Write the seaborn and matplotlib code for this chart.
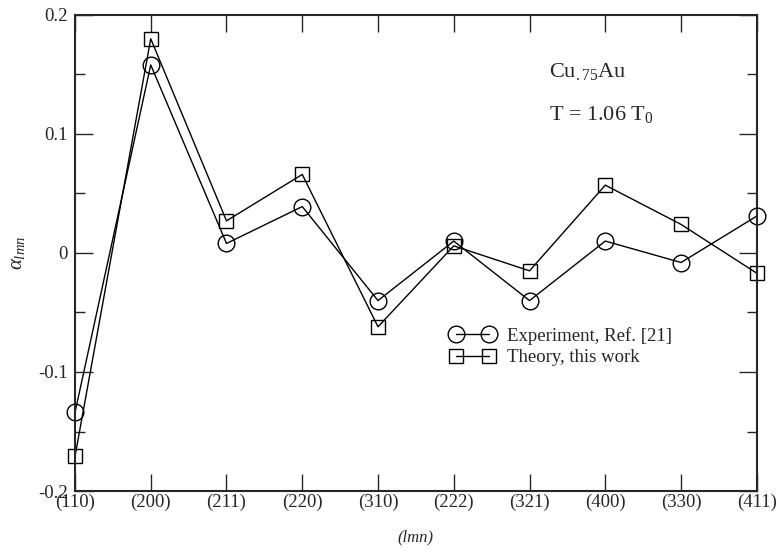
import pandas as pd
import seaborn as sns
import matplotlib.pyplot as plt

# Data
planes = ['(110)', '(200)', '(211)', '(220)', '(310)', '(222)', '(321)', '(400)', '(330)', '(411)']
experiment = [-0.134, 0.158, 0.008, 0.039, -0.040, 0.010, -0.040, 0.010, -0.008, 0.031]
theory = [-0.171, 0.180, 0.027, 0.066, -0.062, 0.006, -0.015, 0.057, 0.024, -0.017]

sns.set_style('ticks')
plt.rcParams['font.family'] = ['Liberation Serif', 'DejaVu Serif']
plt.rcParams['mathtext.fontset'] = 'custom'
plt.rcParams['mathtext.rm'] = 'Liberation Serif'
plt.rcParams['mathtext.it'] = 'Liberation Serif:italic'
plt.rcParams['axes.unicode_minus'] = False

df = pd.DataFrame({'pos': range(len(planes)), 'exp': experiment, 'theo': theory})

fig = plt.figure(figsize=(7.77, 5.54), dpi=100)
ax = fig.add_axes([0.0965, 0.1137, 0.8775, 0.8593])

sns.lineplot(data=df, x='pos', y='exp', ax=ax, color='black', lw=1,
             marker='o', markersize=12, markerfacecolor='none',
             markeredgecolor='black', markeredgewidth=1, clip_on=False,
             label='Experiment, Ref. [21]')
sns.lineplot(data=df, x='pos', y='theo', ax=ax, color='black', lw=1,
             marker='s', markersize=10, markerfacecolor='none',
             markeredgecolor='black', markeredgewidth=1, clip_on=False,
             label='Theory, this work')

ax.set_xlim(0, len(planes) - 1)
ax.set_ylim(-0.2, 0.2)
ax.set_xticks(range(len(planes)))
ax.set_xticklabels(planes)
ax.set_yticks([-0.2, -0.1, 0, 0.1, 0.2])
ax.set_yticklabels(['-0.2', '-0.1', '0', '0.1', '0.2'])
ax.set_yticks([-0.15, -0.05, 0.05, 0.15], minor=True)

for s in ax.spines.values():
    s.set_linewidth(1.5)
ax.tick_params(which='major', direction='in', length=12, width=1,
               top=True, right=True, labelsize=13.5, pad=2)
ax.tick_params(axis='y', which='major', length=13, pad=5)
ax.tick_params(which='minor', direction='in', length=7, width=1,
               left=True, right=True)

ax.set_xlabel('(lmn)', fontsize=12, fontstyle='italic', labelpad=13)
ax.set_ylabel(r'$\alpha_{lmn}$', fontsize=15, labelpad=8)

ax.text(0.695, 0.87, r'Cu$_{.75}$Au', transform=ax.transAxes, fontsize=16)
ax.text(0.695, 0.78, r'T = 1.06 T$_{0}$', transform=ax.transAxes, fontsize=16)

ax.legend(loc='upper left', bbox_to_anchor=(0.539, 0.361), frameon=False,
          fontsize=13.5, handlelength=2.4, handletextpad=0.64, numpoints=2,
          labelspacing=0.25, borderaxespad=0)

fig.savefig('out.png', dpi=100)
